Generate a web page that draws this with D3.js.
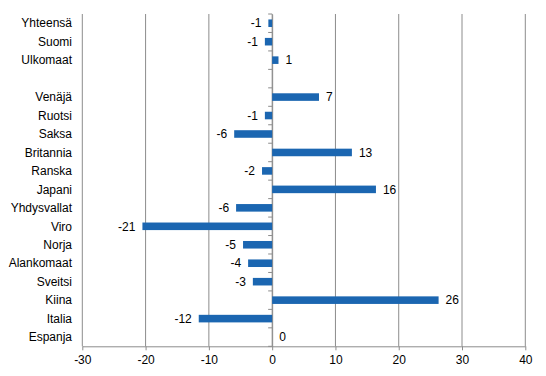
<!DOCTYPE html>
<html>
<head>
<meta charset="utf-8">
<script src="https://cdn.jsdelivr.net/npm/d3@7"></script>
<style>
  body { margin: 0; background: #fff; }
  text { font-family: "Liberation Sans", Arial, sans-serif; font-size: 12px; fill: #000; }
</style>
</head>
<body>
<div id="chart-area"></div>
<script>
// categories (the empty one is the gap row)
var categories = ["Yhteensä", "Suomi", "Ulkomaat", "", "Venäjä", "Ruotsi", "Saksa", "Britannia",
    "Ranska", "Japani", "Yhdysvallat", "Viro", "Norja", "Alankomaat", "Sveitsi", "Kiina", "Italia", "Espanja"];
var values = [-0.6, -1.15, 1.0, null, 7.4, -1.15, -6.0, 12.6, -1.6, 16.4, -5.7, -20.5, -4.6, -3.8, -3.05, 26.3, -11.6, 0];
var valueLabels = ["-1", "-1", "1", "", "7", "-1", "-6", "13", "-2", "16", "-6", "-21", "-5", "-4", "-3", "26", "-12", "0"];
var ticks = [-30, -20, -10, 0, 10, 20, 30, 40];

var width = 546, height = 376;
var plotLeft = 82.3, plotRight = 525.3, plotTop = 14, plotBottom = 346.3;

var svg = d3.select("#chart-area").append("svg")
    .attr("width", width)
    .attr("height", height);

var data = categories.map((c, i) => ({key: i, name: c, value: values[i], label: valueLabels[i]}));

var x = d3.scaleLinear().domain([-30, 40]).range([plotLeft, plotRight]);
var y = d3.scaleBand().domain(data.map(d => d.key)).range([plotTop, plotBottom]).paddingInner(0.59).paddingOuter(0.295);
var yRow = d3.scaleBand().domain(data.map(d => d.key)).range([plotTop, plotBottom]);

// vertical gridlines
svg.append("g").selectAll("line").data(ticks).enter().append("line")
    .attr("x1", d => x(d)).attr("x2", d => x(d))
    .attr("y1", plotTop).attr("y2", plotBottom)
    .attr("stroke", "#8c8c8c").attr("stroke-width", 1);

// bottom axis
var xAxis = svg.append("g")
    .attr("transform", "translate(0," + plotBottom + ")")
    .call(d3.axisBottom(x).tickValues(ticks).tickFormat(d => String(d))
        .tickSize(4).tickSizeOuter(0).tickPadding(5));
xAxis.select(".domain").attr("stroke", "#8c8c8c");
xAxis.selectAll(".tick line").attr("stroke", "#8c8c8c");
xAxis.selectAll("text").style("font-size", "12px").attr("fill", "#000")
    .style("font-family", "'Liberation Sans', Arial, sans-serif");

// category axis at zero
var yAxis = svg.append("g")
    .attr("transform", "translate(" + x(0) + ",0)")
    .call(d3.axisLeft(yRow).tickValues([]).tickSizeOuter(0));
yAxis.select(".domain").attr("stroke", "#8c8c8c");
yAxis.selectAll("line.cat").data(d3.range(categories.length + 1)).enter().append("line")
    .attr("class", "cat")
    .attr("x1", -4).attr("x2", 0)
    .attr("y1", i => plotTop + i * yRow.step()).attr("y2", i => plotTop + i * yRow.step())
    .attr("stroke", "#8c8c8c");

// category labels
svg.append("g").selectAll("text").data(data).enter().append("text")
    .attr("x", 72)
    .attr("y", d => yRow(d.key) + yRow.bandwidth() / 2)
    .attr("dy", "0.35em")
    .attr("text-anchor", "end")
    .text(d => d.name);

var barData = data.filter(d => d.value !== null);

// bars
svg.append("g").selectAll("rect").data(barData).enter().append("rect")
    .attr("x", d => x(Math.min(0, d.value)))
    .attr("y", d => y(d.key))
    .attr("width", d => Math.abs(x(d.value) - x(0)))
    .attr("height", y.bandwidth())
    .attr("fill", "#1b66b1");

// value labels
svg.append("g").selectAll("text").data(barData).enter().append("text")
    .attr("x", d => d.value < 0 ? x(d.value) - 7 : x(d.value) + 7)
    .attr("y", d => yRow(d.key) + yRow.bandwidth() / 2)
    .attr("dy", "0.35em")
    .attr("text-anchor", d => d.value < 0 ? "end" : "start")
    .text(d => d.label);
</script>
</body>
</html>
